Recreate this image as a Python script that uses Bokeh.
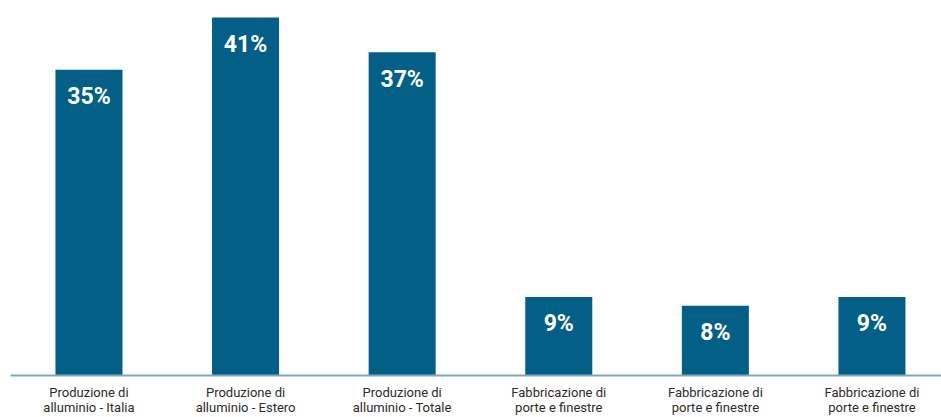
from bokeh.plotting import figure
from bokeh.models import Range1d, FixedTicker, ColumnDataSource
from bokeh.core.properties import value
from bokeh.embed import file_html
from bokeh.resources import INLINE

categories = [
    "Produzione di\nalluminio - Italia",
    "Produzione di\nalluminio - Estero",
    "Produzione di\nalluminio - Totale",
    "Fabbricazione di\nporte e finestre",
    "Fabbricazione di\nporte e finestre",
    "Fabbricazione di\nporte e finestre",
]
values = [35, 41, 37, 9, 8, 9]
labels = [f"{v}%" for v in values]
xs = list(range(len(values)))

BAR = "#035F86"
AXIS = "#7FA8C0"

p = figure(width=941, height=417, output_backend="svg", toolbar_location=None,
           x_range=Range1d(-0.501, 5.444), y_range=Range1d(0, 42.94),
           min_border_left=10, min_border_right=0, min_border_top=0, min_border_bottom=0)
p.outline_line_color = None
p.xgrid.visible = False
p.ygrid.visible = False
p.yaxis.visible = False

src = ColumnDataSource(dict(x=xs, top=values, label=labels))
p.vbar(x="x", top="top", width=0.428, source=src, fill_color=BAR, line_color=None)
p.text(x="x", y="top", text="label", source=src, text_align="center",
       text_baseline="middle", y_offset=27, text_color="white",
       text_font=value("Roboto"), text_font_style="bold", text_font_size="23px")

ax = p.xaxis[0]
ax.ticker = FixedTicker(ticks=xs)
ax.major_label_overrides = {i: c for i, c in zip(xs, categories)}
ax.axis_line_color = AXIS
ax.axis_line_width = 2
ax.major_tick_line_color = None
ax.minor_tick_line_color = None
ax.major_tick_out = 0
ax.major_tick_in = 0
ax.major_label_standoff = 9
ax.major_label_text_font = "Roboto"
ax.major_label_text_font_size = "13px"
ax.major_label_text_color = "#2b2b2b"
ax.major_label_text_line_height = 1.0

open("out.html", "w").write(file_html(p, INLINE))
